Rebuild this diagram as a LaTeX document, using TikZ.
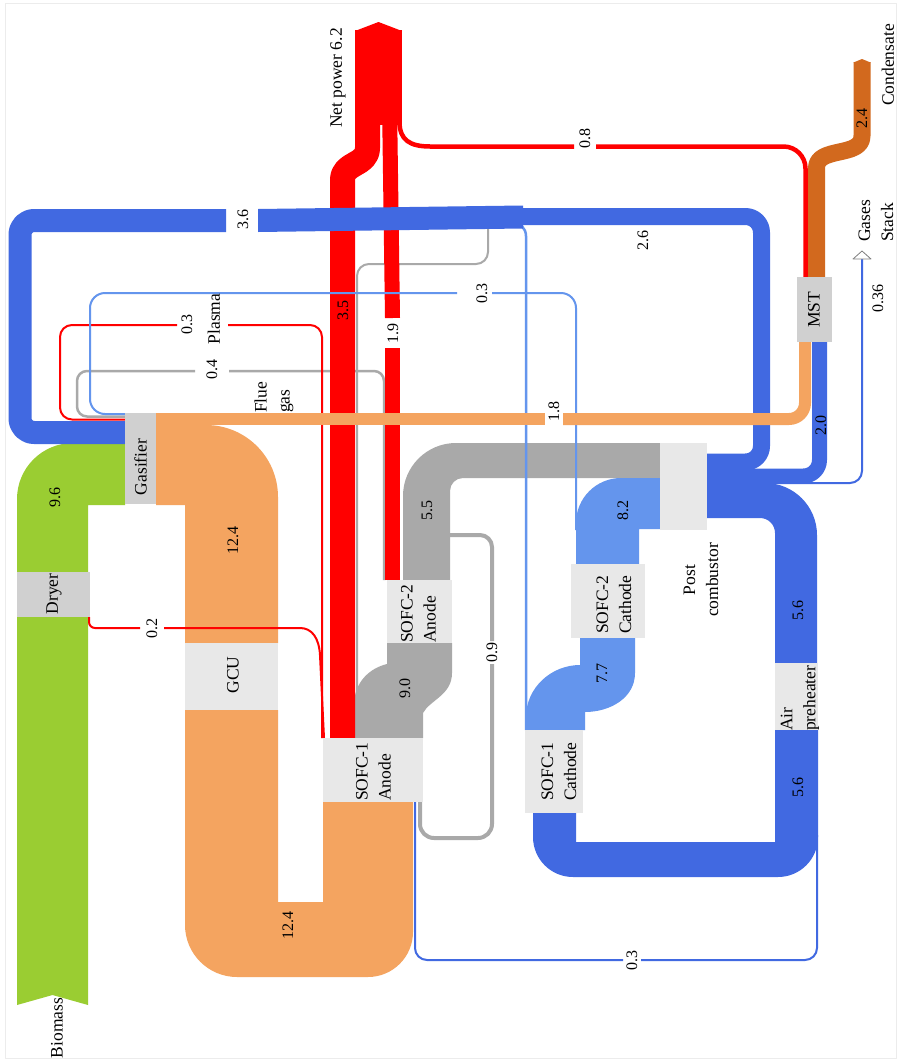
\documentclass[tikz,border=0pt]{standalone}
\usepackage{fontspec}
\setmainfont{Liberation Serif}
\definecolor{cgreen}{HTML}{9ACD32}
\definecolor{corange}{HTML}{F4A460}
\definecolor{cgray}{HTML}{A9A9A9}
\definecolor{cblue}{HTML}{4169E1}
\definecolor{clblue}{HTML}{6495ED}
\definecolor{cred}{HTML}{FF0000}
\definecolor{cbrown}{HTML}{D2691E}
\definecolor{cbox}{HTML}{D0D0D0}
\definecolor{cboxl}{HTML}{E8E8E8}
\begin{document}
\begin{tikzpicture}[x=1pt,y=-1pt,line join=round,
  lbl/.style={rotate=90,inner sep=0pt,font=\fontsize{17.5}{23}\selectfont,align=center},
  lbll/.style={lbl,anchor=west,align=left},
  num/.style={rotate=90,inner sep=0pt,font=\fontsize{16}{19}\selectfont},
  box/.style={fill=cbox,draw=none,inner sep=0pt,outer sep=0pt},
  boxl/.style={box,fill=cboxl},
  thin/.style={line width=2pt,rounded corners=12pt}]
\useasboundingbox (0,0) rectangle (900,1063);
\fill[white] (0,0) rectangle (900,1063);
\draw[gray!15,line width=1pt] (5,3) rectangle (896,1058);

% ---- wide flows (filled shapes)
% biomass 9.6
\fill[cgreen] (17,1005) -- (52.5,995) -- (88,1005) -- (88,505) -- (125,505) -- (125,443) -- (73,443) .. controls (42.1,443) and (17,468.1) .. (17,499) -- cycle;
% 12.4 gasifier -> GCU
\fill[corange] (156,425) -- (206,425) .. controls (245.8,425) and (278,457.2) .. (278,497) -- (278,643) -- (185,643) -- (185,505) -- (156,505) -- cycle;
% 12.4 GCU -> SOFC-1 anode
\fill[corange] (185,710) -- (185,925) .. controls (185,953.7) and (208.3,977) .. (237,977) -- (368,977) .. controls (392.8,977) and (413,956.8) .. (413,932) -- (413,802) -- (323,802) -- (323,902) -- (278,902) -- (278,710) -- cycle;
% 9.0
\fill[cgray] (354,738) -- (354,705) .. controls (354,682) and (370,668) .. (387,664) -- (387,643) -- (452,643) -- (452,673) .. controls (452,695) and (430,700) .. (423,713) -- (423,738) -- cycle;
% 5.5
\fill[cgray] (403,580) -- (403,496) .. controls (403,466.7) and (426.7,443) .. (456,443) -- (660,443) -- (660,478) -- (463,478) .. controls (455.8,478) and (450,483.8) .. (450,491) -- (450,580) -- cycle;
% 8.2
\fill[clblue] (576,564) -- (576,523) .. controls (576,498.2) and (596.2,478) .. (621,478) -- (660,478) -- (660,529) -- (639,529) -- (639,564) -- cycle;
% 7.7
\fill[clblue] (580,638) -- (635,638) -- (635,673) .. controls (635,698) and (610,712) .. (585,712) -- (585,730) -- (526,730) -- (526,717) .. controls (526,688) and (551,665) .. (580,665) -- cycle;
% 5.6 post combustor -> air preheater
\fill[cblue] (707,483) -- (765,483) .. controls (793.7,483) and (817,506.3) .. (817,535) -- (817,663) -- (775,663) -- (775,533) .. controls (775,524.7) and (768.3,518) .. (760,518) -- (707,518) -- cycle;
% 5.6 air preheater -> SOFC-1 cathode
\fill[cblue] (775,730) -- (818,730) -- (818,837) .. controls (818,859.1) and (800.1,877) .. (778,877) -- (573,877) .. controls (550.9,877) and (533,859.1) .. (533,837) -- (533,813) -- (576,813) -- (576,842) -- (775,842) -- cycle;

% ---- thin lines behind the red bands
\draw[cgray,line width=2.5pt,rounded corners=10pt] (125,416.5) -- (77,416.5) -- (77,371) -- (195,371);
\draw[cgray,line width=2.5pt,rounded corners=10pt] (229,371) -- (384,371) -- (384,580);
\draw[cred,thin] (125,419.5) -- (60,419.5) -- (60,325) -- (177,325);
\draw[cred,thin] (228,325) -- (322,325) -- (322,738);
\draw[cgray,thin] (488,226) -- (488,264) -- (357,264) -- (357,738);

% ---- power (red)
\draw[cred,line width=25pt] (342.5,738) -- (342.5,180) .. controls (342.5,162) and (367.5,166) .. (367.5,148) -- (367.5,30);
\draw[cred,line width=15pt] (392.5,580) -- (392.5,348);
\draw[cred,line width=15pt] (392.5,318) -- (388.5,30);
\draw[cred,line width=4.5pt,rounded corners=22pt] (805.5,277) -- (805.5,146.5) -- (596,146.5);
\draw[cred,line width=4.5pt] (574,146.5) -- (430,146.5) .. controls (410,146.5) and (399.5,140) .. (399.5,122) -- (399.5,30);
\fill[cred] (355,30) rectangle (402,125);
\fill[cred] (355,31) -- (378.5,22) -- (402,31) -- cycle;

% ---- air loop (blue)
\draw[clblue,line width=2.5pt,rounded corners=14pt] (505,222) -- (526,222) -- (526,730);
\draw[cblue,line width=23pt,rounded corners=14pt] (226,220.5) -- (20,220.5) -- (20,432.5) -- (125,432.5);
\fill[cblue] (258,209) -- (523,205.5) -- (523,228.5) -- (258,232) -- cycle;
\draw[cblue,line width=17pt,rounded corners=16pt] (523,216.5) -- (761.5,216.5) -- (761.5,462) -- (707,462);
\draw[clblue,line width=2pt,rounded corners=15pt] (125,414) -- (90,414) -- (90,293) -- (457,293);
\draw[clblue,line width=2pt,rounded corners=15pt] (492,293) -- (576,293) -- (576,530);

% ---- flue gas 1.8
\draw[corange,line width=12pt] (156,419) -- (545,419);
\draw[corange,line width=12pt,rounded corners=16pt] (563,419) -- (805,419) -- (805,342);

% ---- condensate 2.4
\draw[cbrown,line width=17pt] (816.5,277) -- (816.5,168) .. controls (816.5,146) and (862,158) .. (862,136) -- (862,62);
\fill[cbrown] (853.5,62.5) -- (862,59) -- (870.5,62.5) -- cycle;

% ---- 2.0 and stack gases
\draw[cblue,line width=15pt,rounded corners=16pt] (707,476) -- (819.5,476) -- (819.5,342);
\draw[cblue,thin] (707,483) -- (862,483) -- (862,259);
\draw[gray,fill=white,line width=0.8pt] (853,259) -- (871,259) -- (862,251) -- cycle;

% ---- other thin lines
\draw[cred,line width=2pt,rounded corners=6pt] (89,617) -- (89,628) -- (140,628);
\draw[cred,line width=2pt] (164,628) -- (300,628) .. controls (312,628) and (319,638) .. (320,655) -- (324,738);
\draw[cgray,line width=4pt,rounded corners=12pt] (450,535) -- (492,535) -- (492,641);
\draw[cgray,line width=4pt,rounded corners=14pt] (492,664) -- (492,838) -- (420,838) -- (420,802);
\draw[cblue,thin] (415,802) -- (415,960) -- (623,960);
\draw[cblue,thin] (641,960) -- (817,960) -- (817,835);

% ---- units
\node[box,minimum width=31pt,minimum height=91pt] (gasifier) at (140.5,458.5) {};
\node[box,minimum width=73pt,minimum height=45pt] (dryer) at (53.5,594.5) {};
\node[box,minimum width=35pt,minimum height=65pt] (mst) at (814.5,309.5) {};
\node[boxl,minimum width=93pt,minimum height=67pt] (gcu) at (231.5,676.5) {};
\node[boxl,minimum width=100pt,minimum height=64pt] (sofc1a) at (373,770) {};
\node[boxl,minimum width=65pt,minimum height=63pt] (sofc2a) at (419.5,611.5) {};
\node[boxl,minimum width=74pt,minimum height=74pt] (sofc2c) at (608,601) {};
\node[boxl,minimum width=58pt,minimum height=83pt] (sofc1c) at (554,771.5) {};
\node[boxl,minimum width=47pt,minimum height=87pt] (post) at (683.5,486.5) {};
\node[boxl,minimum width=43pt,minimum height=67pt] (airpre) at (796.5,696.5) {};

% ---- unit texts
\node[lbl] (tgas) at (140.5,467) {Gasifier};
\node[lbl] (tdry) at (54,594) {Dryer};
\node[lbl] (tmst) at (814,310) {MST};
\node[lbl] (tgcu) at (233,675) {GCU};
\node[lbll] (tsofc1a) at (373.5,801) {SOFC-1\\Anode};
\node[lbll] (tsofc2a) at (418.5,643) {SOFC-2\\Anode};
\node[lbll] (tsofc2c) at (614,634) {SOFC-2\\Cathode};
\node[lbll] (tsofc1c) at (559,801) {SOFC-1\\Cathode};
\node[lbl] (tpost) at (701,580) {Post\\combustor};
\node[lbll] (tair) at (800,731) {Air\\preheater};
\node[lbl] (tnet) at (338,78) {Net power 6.2};
\node[lbl] (tcond) at (888,65) {Condensate};
\node[lbll] (tgases) at (876,242) {Gases\\Stack};
\node[lbll] (tflue) at (274,413) {Flue\\gas};
\node[lbl] (tplasma) at (214,319) {Plasma};
\node[lbl] (tbio) at (57,1028) {Biomass};

% ---- values
\node[num] (v96) at (55,497) {9.6};
\node[num] (v124a) at (233,540) {12.4};
\node[num] (v124b) at (288,925) {12.4};
\node[num] (v36) at (243,219) {3.6};
\node[num] (v35) at (343,310) {3.5};
\node[num] (v19) at (393,333) {1.9};
\node[num] (v03a) at (187,324) {0.3};
\node[num] (v04) at (212,369) {0.4};
\node[num] (v03b) at (482,293) {0.3};
\node[num] (v08) at (585,138) {0.8};
\node[num] (v26) at (643,240) {2.6};
\node[num] (v24) at (862,118) {2.4};
\node[num] (v036) at (878,298) {0.36};
\node[num] (v18) at (554,411) {1.8};
\node[num] (v20) at (821,425) {2.0};
\node[num] (v55) at (427,510) {5.5};
\node[num] (v82) at (623,510) {8.2};
\node[num] (v90) at (405,688) {9.0};
\node[num] (v09) at (492,652) {0.9};
\node[num] (v77) at (602,673) {7.7};
\node[num] (v56a) at (798,610) {5.6};
\node[num] (v56b) at (798,787) {5.6};
\node[num] (v02) at (152,628) {0.2};
\node[num] (v03c) at (632,960) {0.3};
\end{tikzpicture}
\end{document}
